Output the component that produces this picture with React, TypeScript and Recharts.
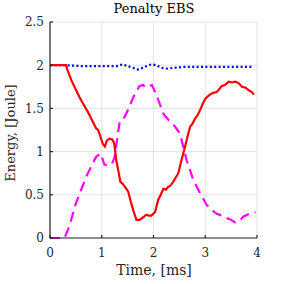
import React from 'react';
import { LineChart, Line, XAxis, YAxis, CartesianGrid } from 'recharts';

const title = 'Penalty EBS';
const xLabel = 'Time, [ms]';
const yLabel = 'Energy, [Joule]';
const xTicks = [0, 1, 2, 3, 4];
const yTicks = [0, 0.5, 1, 1.5, 2, 2.5];

const redT = [0, 0.31, 0.34, 0.41, 0.57, 0.73, 0.89, 0.93, 0.96, 1.02, 1.06, 1.1, 1.15, 1.2, 1.24, 1.28, 1.32, 1.36, 1.4, 1.44, 1.51, 1.57, 1.62, 1.67, 1.73, 1.8, 1.86, 1.91, 1.96, 2.03, 2.09, 2.14, 2.19, 2.24, 2.28, 2.33, 2.38, 2.43, 2.48, 2.54, 2.61, 2.66, 2.71, 2.76, 2.8, 2.85, 2.9, 2.95, 3.0, 3.05, 3.09, 3.15, 3.22, 3.27, 3.32, 3.38, 3.45, 3.52, 3.58, 3.65, 3.71, 3.78, 3.84, 3.9, 3.94];
const redE = [2.0, 2.0, 1.94, 1.83, 1.63, 1.46, 1.27, 1.25, 1.2, 1.09, 1.06, 1.13, 1.15, 1.14, 1.1, 0.9, 0.78, 0.65, 0.63, 0.6, 0.54, 0.4, 0.3, 0.21, 0.21, 0.24, 0.27, 0.26, 0.26, 0.3, 0.44, 0.5, 0.57, 0.56, 0.59, 0.61, 0.65, 0.7, 0.75, 0.9, 1.06, 1.18, 1.29, 1.33, 1.38, 1.42, 1.48, 1.55, 1.61, 1.64, 1.66, 1.68, 1.69, 1.72, 1.76, 1.77, 1.81, 1.8, 1.81, 1.79, 1.75, 1.74, 1.71, 1.69, 1.66];

const magT = [0, 0.28, 0.37, 0.5, 0.7, 0.89, 0.98, 1.05, 1.15, 1.2, 1.25, 1.35, 1.44, 1.52, 1.61, 1.73, 1.8, 1.86, 1.92, 1.97, 2.06, 2.19, 2.3, 2.38, 2.51, 2.64, 2.77, 2.9, 3.03, 3.12, 3.22, 3.32, 3.42, 3.5, 3.58, 3.66, 3.74, 3.85, 3.97];
const magE = [0, 0, 0.13, 0.4, 0.71, 0.94, 0.98, 0.85, 0.84, 0.86, 0.94, 1.36, 1.4, 1.5, 1.63, 1.76, 1.77, 1.74, 1.76, 1.77, 1.65, 1.44, 1.36, 1.32, 1.21, 0.9, 0.67, 0.52, 0.38, 0.33, 0.28, 0.26, 0.23, 0.21, 0.18, 0.2, 0.25, 0.28, 0.3];

const blueT = [0, 0.3, 0.6, 0.9, 1.2, 1.3, 1.4, 1.5, 1.6, 1.7, 1.8, 1.9, 1.97, 2.05, 2.15, 2.25, 2.4, 2.6, 2.9, 3.2, 3.5, 3.9];
const blueE = [2.0, 2.0, 1.99, 1.99, 1.99, 1.99, 2.01, 1.99, 1.97, 1.95, 1.97, 2.0, 2.01, 2.0, 1.97, 1.96, 1.97, 1.98, 1.98, 1.98, 1.98, 1.98];

const toPts = (t: number[], e: number[]) => t.map((x, i) => ({ t: x, e: e[i] }));
const redData = toPts(redT, redE);
const magData = toPts(magT, magE);
const blueData = toPts(blueT, blueE);

const FONT = '"DejaVu Serif", "Liberation Serif", serif';
const AXIS = '#262626';

const XTick = (props: any) => {
  const { x, y, payload } = props;
  return (
    <text x={x} y={y + 14} textAnchor="middle" fill="#262626" fontSize={12} fontFamily={FONT}>
      {payload.value}
    </text>
  );
};

const YTick = (props: any) => {
  const { x, y, payload } = props;
  return (
    <text x={x - 1} y={y + 4.4} textAnchor="end" fill="#262626" fontSize={12} fontFamily={FONT}>
      {payload.value}
    </text>
  );
};

export default function App() {
  return (
    <div style={{ position: 'fixed', left: 0, top: 0, width: 284, height: 284, background: '#fff', fontFamily: FONT }}>
      <LineChart width={284} height={284} margin={{ top: 22, right: 27, bottom: 26, left: 10 }}>
        <CartesianGrid stroke="#e3e3e3" strokeWidth={1} />
        <XAxis
          dataKey="t"
          type="number"
          domain={[0, 4]}
          ticks={xTicks}
          allowDuplicatedCategory={false}
          height={20}
          stroke={AXIS}
          strokeWidth={1.2}
          tickSize={-3}
          tickMargin={8}
          tick={<XTick />}
        />
        <YAxis
          dataKey="e"
          type="number"
          domain={[0, 2.5]}
          ticks={yTicks}
          width={40}
          stroke={AXIS}
          strokeWidth={1.2}
          tickSize={-3}
          tickMargin={8}
          tick={<YTick />}
        />
        <Line data={magData} dataKey="e" type="linear" stroke="#ff00ff" strokeWidth={2.2} strokeDasharray="10 6" dot={false} isAnimationActive={false} />
        <Line data={blueData} dataKey="e" type="linear" stroke="#0000ff" strokeWidth={2.2} strokeDasharray="2 2.4" dot={false} isAnimationActive={false} />
        <Line data={redData} dataKey="e" type="linear" stroke="#ff0000" strokeWidth={2.2} dot={false} isAnimationActive={false} />
      </LineChart>
      <div style={{ position: 'absolute', left: 51, width: 206, top: 0, textAlign: 'center', fontSize: 13, lineHeight: '18px', color: '#000' }}>{title}</div>
      <div style={{ position: 'absolute', left: 51, width: 206, top: 261, textAlign: 'center', fontSize: 14, lineHeight: '18px', color: '#262626' }}>{xLabel}</div>
      <div style={{ position: 'absolute', left: 10.5, top: 133, width: 0, height: 0 }}>
        <div style={{ position: 'absolute', transform: 'translate(-50%, -50%) rotate(-90deg)', whiteSpace: 'nowrap', fontSize: 13, lineHeight: '18px', color: '#262626' }}>{yLabel}</div>
      </div>
    </div>
  );
}
